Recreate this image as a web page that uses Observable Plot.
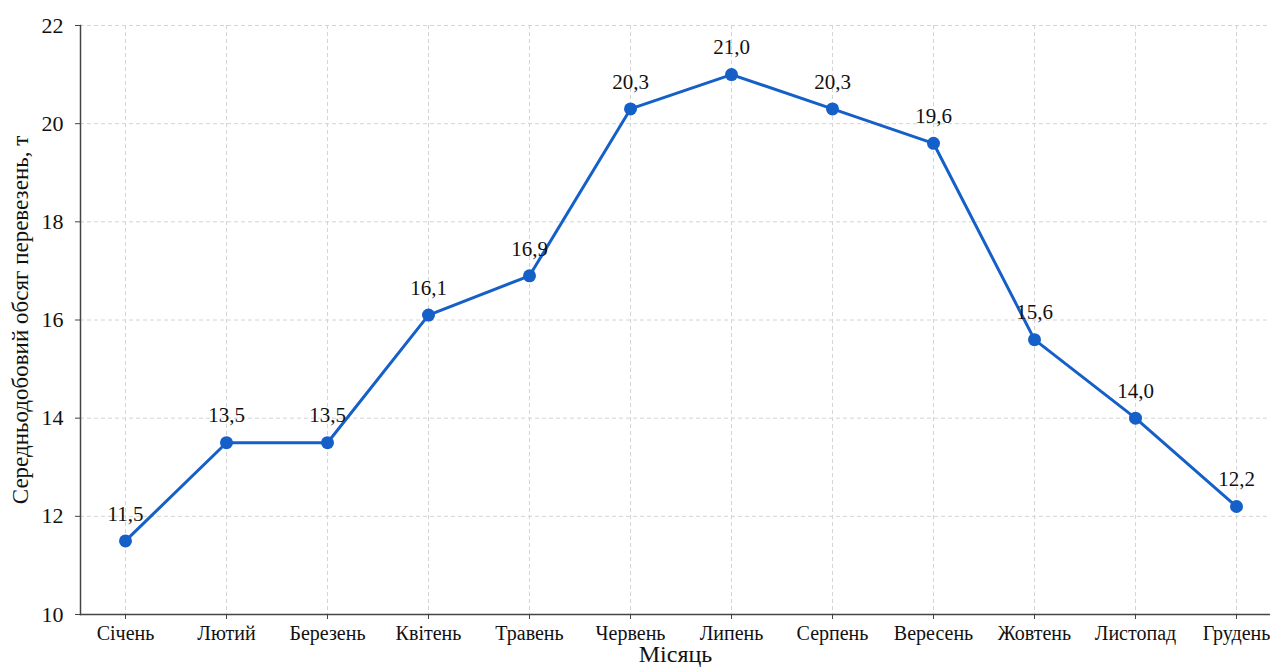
<!DOCTYPE html>
<html>
<head>
<meta charset="utf-8">
<script src="https://cdn.jsdelivr.net/npm/d3@7"></script>
<script src="https://cdn.jsdelivr.net/npm/@observablehq/plot@0.6"></script>
<style>
  body { margin: 0; background: #fff; }
</style>
</head>
<body>
<div id="chart"></div>
<script>
// Середньодобовий обсяг перевезень за місяцями
const months = ["Січень", "Лютий", "Березень", "Квітень", "Травень", "Червень",
                "Липень", "Серпень", "Вересень", "Жовтень", "Листопад", "Грудень"];
const volumes = [11.5, 13.5, 13.5, 16.1, 16.9, 20.3, 21.0, 20.3, 19.6, 15.6, 14.0, 12.2];
const yTicks = [10, 12, 14, 16, 18, 20, 22];
const yTitle = "Середньодобовий обсяг перевезень, т";
const xTitle = "Місяць";

const data = months.map((m, i) => ({ month: m, value: volumes[i] }));
const fmt = v => v.toFixed(1).replace(".", ",");

const blue = "#1560c8";
const grid = { stroke: "#d4d4d4", strokeOpacity: 1, strokeDasharray: "4,3", strokeWidth: 1 };

const chart = Plot.plot({
  width: 1270,
  height: 668,
  marginTop: 25,
  marginBottom: 54,
  marginLeft: 80,
  marginRight: 0,
  style: { fontFamily: "'Liberation Serif', 'Times New Roman', serif", background: "#fff", color: "#111" },
  x: { type: "point", domain: months, range: [125, 1236], padding: 0 },
  y: { domain: [10, 22] },
  marks: [
    Plot.gridY(yTicks, grid),
    Plot.gridX(months, grid),
    Plot.frame({ anchor: "left", stroke: "#444", strokeWidth: 1.5 }),
    Plot.frame({ anchor: "bottom", stroke: "#444", strokeWidth: 1.5 }),
    Plot.axisY({ ticks: yTicks, tickSize: 5, tickPadding: 12, fontSize: 22, label: null, stroke: "#444" }),
    Plot.axisX({ tickSize: 5, tickPadding: 6, fontSize: 20, label: null, stroke: "#444" }),
    Plot.text([yTitle], { frameAnchor: "left", textAnchor: "middle", dx: -60, rotate: -90, fontSize: 23 }),
    Plot.text([xTitle], { frameAnchor: "bottom", dy: 47, fontSize: 24 }),
    Plot.line(data, { x: "month", y: "value", stroke: blue, strokeWidth: 3 }),
    Plot.dot(data, { x: "month", y: "value", r: 6.5, fill: blue }),
    Plot.text(data, { x: "month", y: "value", text: d => fmt(d.value), dy: -27, fontSize: 21 })
  ]
});

document.getElementById("chart").append(chart);
</script>
</body>
</html>
